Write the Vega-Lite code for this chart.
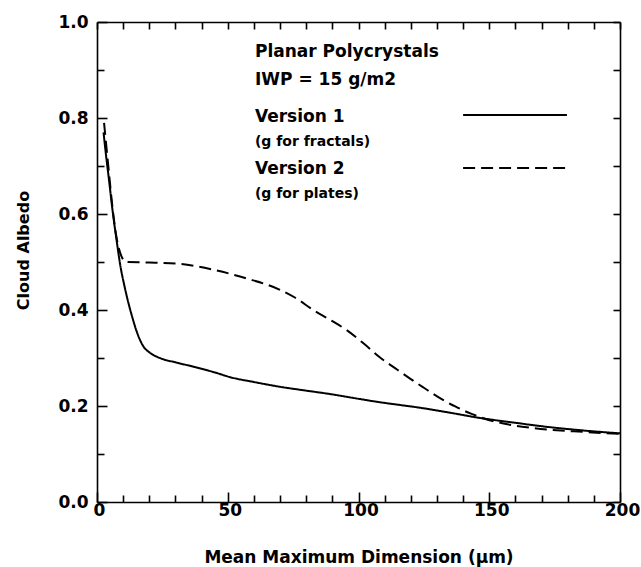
{
  "$schema": "https://vega.github.io/schema/vega-lite/v6.json",
  "width": 523,
  "height": 480,
  "autosize": "none",
  "padding": {"left": 97, "top": 22, "right": 21, "bottom": 65},
  "config": {
    "view": {"stroke": null},
    "font": "DejaVu Sans",
    "axis": {
      "grid": false,
      "domainColor": "black",
      "domainWidth": 1.6,
      "tickColor": "black",
      "tickWidth": 1.6,
      "labelColor": "black",
      "titleColor": "black",
      "labelFont": "DejaVu Sans",
      "labelFontSize": 17,
      "labelFontWeight": "bold",
      "titleFont": "DejaVu Sans",
      "titleFontSize": 16,
      "titleFontWeight": "bold"
    }
  },
  "datasets": {
    "curves": [
      {"version": "Version 1", "d": 2.5, "albedo": 0.77},
      {"version": "Version 1", "d": 3.5, "albedo": 0.72},
      {"version": "Version 1", "d": 4.5, "albedo": 0.675},
      {"version": "Version 1", "d": 6, "albedo": 0.605},
      {"version": "Version 1", "d": 7.5, "albedo": 0.545},
      {"version": "Version 1", "d": 9, "albedo": 0.49},
      {"version": "Version 1", "d": 10.5, "albedo": 0.45},
      {"version": "Version 1", "d": 12, "albedo": 0.415},
      {"version": "Version 1", "d": 13.5, "albedo": 0.385},
      {"version": "Version 1", "d": 15, "albedo": 0.358},
      {"version": "Version 1", "d": 16.5, "albedo": 0.337},
      {"version": "Version 1", "d": 18, "albedo": 0.322},
      {"version": "Version 1", "d": 19.5, "albedo": 0.314},
      {"version": "Version 1", "d": 22, "albedo": 0.305},
      {"version": "Version 1", "d": 25, "albedo": 0.298},
      {"version": "Version 1", "d": 30, "albedo": 0.291},
      {"version": "Version 1", "d": 37.5, "albedo": 0.281},
      {"version": "Version 1", "d": 45, "albedo": 0.27},
      {"version": "Version 1", "d": 51, "albedo": 0.26},
      {"version": "Version 1", "d": 60, "albedo": 0.25},
      {"version": "Version 1", "d": 70, "albedo": 0.24},
      {"version": "Version 1", "d": 80, "albedo": 0.232},
      {"version": "Version 1", "d": 89, "albedo": 0.225},
      {"version": "Version 1", "d": 100, "albedo": 0.215},
      {"version": "Version 1", "d": 108, "albedo": 0.208},
      {"version": "Version 1", "d": 116, "albedo": 0.202},
      {"version": "Version 1", "d": 124, "albedo": 0.196},
      {"version": "Version 1", "d": 135, "albedo": 0.186},
      {"version": "Version 1", "d": 146.5, "albedo": 0.175},
      {"version": "Version 1", "d": 160, "albedo": 0.165},
      {"version": "Version 1", "d": 173, "albedo": 0.156},
      {"version": "Version 1", "d": 186, "albedo": 0.149},
      {"version": "Version 1", "d": 200, "albedo": 0.143},
      {"version": "Version 2", "d": 2.7, "albedo": 0.79},
      {"version": "Version 2", "d": 3.5, "albedo": 0.745},
      {"version": "Version 2", "d": 4.5, "albedo": 0.69},
      {"version": "Version 2", "d": 6, "albedo": 0.61},
      {"version": "Version 2", "d": 7.5, "albedo": 0.55},
      {"version": "Version 2", "d": 8.3, "albedo": 0.53},
      {"version": "Version 2", "d": 9.5, "albedo": 0.51},
      {"version": "Version 2", "d": 11, "albedo": 0.5},
      {"version": "Version 2", "d": 20, "albedo": 0.499},
      {"version": "Version 2", "d": 31.7, "albedo": 0.496},
      {"version": "Version 2", "d": 44.4, "albedo": 0.484},
      {"version": "Version 2", "d": 57, "albedo": 0.466},
      {"version": "Version 2", "d": 70, "albedo": 0.442},
      {"version": "Version 2", "d": 76, "albedo": 0.425},
      {"version": "Version 2", "d": 82.7, "albedo": 0.4},
      {"version": "Version 2", "d": 89, "albedo": 0.38},
      {"version": "Version 2", "d": 95.5, "albedo": 0.358},
      {"version": "Version 2", "d": 102, "albedo": 0.33},
      {"version": "Version 2", "d": 108, "albedo": 0.302},
      {"version": "Version 2", "d": 115, "albedo": 0.275},
      {"version": "Version 2", "d": 120, "albedo": 0.256},
      {"version": "Version 2", "d": 125, "albedo": 0.238},
      {"version": "Version 2", "d": 131, "albedo": 0.217},
      {"version": "Version 2", "d": 137, "albedo": 0.199},
      {"version": "Version 2", "d": 143, "albedo": 0.184},
      {"version": "Version 2", "d": 148, "albedo": 0.174},
      {"version": "Version 2", "d": 155, "albedo": 0.164},
      {"version": "Version 2", "d": 167, "albedo": 0.154},
      {"version": "Version 2", "d": 186, "albedo": 0.146},
      {"version": "Version 2", "d": 200, "albedo": 0.142}
    ],
    "keys": [
      {"version": "Version 1", "x1": 140, "x2": 179.7, "y": 0.806},
      {"version": "Version 2", "x1": 140, "x2": 179.7, "y": 0.696}
    ],
    "notes": [
      {"text": "Planar Polycrystals", "kind": "main", "x": 60.4, "y": 0.937},
      {"text": "IWP = 15 g/m2", "kind": "main", "x": 60.4, "y": 0.88},
      {"text": "Version 1", "kind": "main", "x": 60.4, "y": 0.803},
      {"text": "(g for fractals)", "kind": "sub", "x": 60.4, "y": 0.751},
      {"text": "Version 2", "kind": "main", "x": 60.4, "y": 0.693},
      {"text": "(g for plates)", "kind": "sub", "x": 60.4, "y": 0.641}
    ]
  },
  "resolve": {"axis": {"x": "independent", "y": "independent"}},
  "layer": [
    {
      "data": {"name": "curves"},
      "mark": {"type": "line", "color": "black", "strokeWidth": 2, "interpolate": "monotone"},
      "encoding": {
        "x": {
          "field": "d", "type": "quantitative",
          "scale": {"domain": [0, 200], "nice": false, "zero": false},
          "axis": {
            "orient": "bottom",
            "title": "Mean Maximum Dimension (μm)",
            "values": [0, 10, 20, 30, 40, 50, 60, 70, 80, 90, 100, 110, 120, 130, 140, 150, 160, 170, 180, 190, 200],
            "labelExpr": "datum.value % 50 === 0 ? datum.label : ''",
            "tickSize": {"condition": {"test": "datum.value % 50 === 0", "value": -10}, "value": -7},
            "labelFlush": false,
            "labelOffset": 2,
            "labelPadding": 10,
            "titlePadding": 31,
            "titleFontSize": 17
          }
        },
        "y": {
          "field": "albedo", "type": "quantitative",
          "scale": {"domain": [0, 1], "nice": false, "zero": false},
          "axis": {
            "orient": "left",
            "title": "Cloud Albedo",
            "values": [0, 0.1, 0.2, 0.3, 0.4, 0.5, 0.6, 0.7, 0.8, 0.9, 1.0],
            "format": ".1f",
            "labelExpr": "round(datum.value * 10) % 2 === 0 ? datum.label : ''",
            "tickSize": {"condition": {"test": "round(datum.value * 10) % 2 === 0", "value": -10}, "value": -7},
            "labelPadding": 19,
            "titlePadding": 26,
            "titleY": 228
          }
        },
        "strokeDash": {
          "field": "version", "type": "nominal",
          "scale": {"domain": ["Version 1", "Version 2"], "range": [[1, 0], [12, 6]]},
          "legend": null
        }
      }
    },
    {
      "data": {"name": "keys"},
      "mark": {"type": "rule", "color": "black", "strokeWidth": 2},
      "encoding": {
        "x": {"field": "x1", "type": "quantitative", "axis": null},
        "x2": {"field": "x2"},
        "y": {"field": "y", "type": "quantitative", "axis": null},
        "strokeDash": {
          "field": "version", "type": "nominal",
          "scale": {"domain": ["Version 1", "Version 2"], "range": [[1, 0], [12, 6]]},
          "legend": null
        }
      }
    },
    {
      "data": {"name": "notes"},
      "transform": [{"filter": "datum.kind === 'main'"}],
      "mark": {"type": "text", "align": "left", "baseline": "middle", "fontSize": 17, "fontWeight": "bold", "font": "DejaVu Sans", "color": "black"},
      "encoding": {
        "x": {
          "field": "x", "type": "quantitative",
          "axis": {
            "orient": "top", "title": null, "labels": false,
            "values": [0, 10, 20, 30, 40, 50, 60, 70, 80, 90, 100, 110, 120, 130, 140, 150, 160, 170, 180, 190, 200],
            "tickSize": -7
          }
        },
        "y": {
          "field": "y", "type": "quantitative",
          "axis": {
            "orient": "right", "title": null, "labels": false,
            "values": [0, 0.1, 0.2, 0.3, 0.4, 0.5, 0.6, 0.7, 0.8, 0.9, 1.0],
            "tickSize": -7
          }
        },
        "text": {"field": "text"}
      }
    },
    {
      "data": {"name": "notes"},
      "transform": [{"filter": "datum.kind === 'sub'"}],
      "mark": {"type": "text", "align": "left", "baseline": "middle", "fontSize": 14, "fontWeight": "bold", "font": "DejaVu Sans", "color": "black"},
      "encoding": {
        "x": {"field": "x", "type": "quantitative", "axis": null},
        "y": {"field": "y", "type": "quantitative", "axis": null},
        "text": {"field": "text"}
      }
    }
  ]
}
